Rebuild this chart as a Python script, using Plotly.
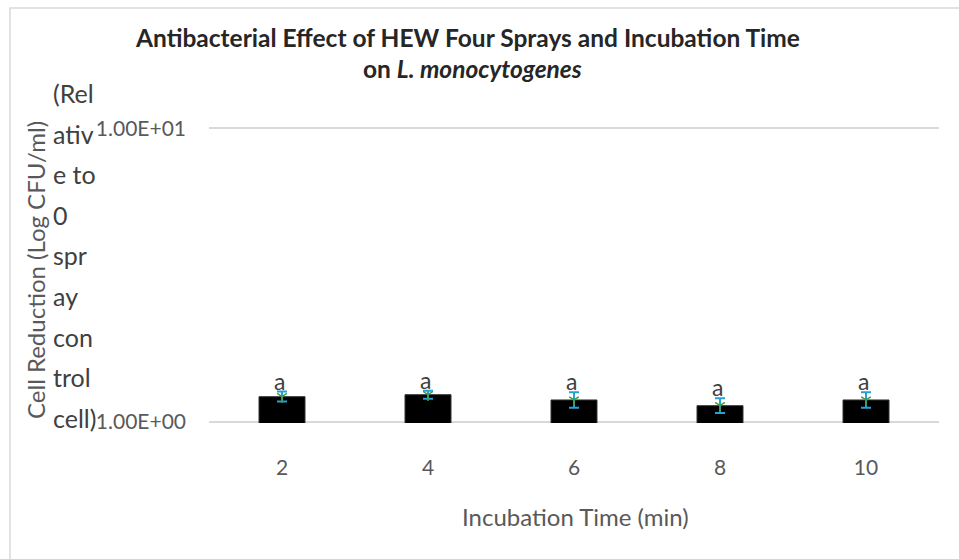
import math
import plotly.graph_objects as go

# Incubation time (min) and mean cell reduction, with error margins
incubation_min = [2, 4, 6, 8, 10]
cell_reduction = [1.218, 1.237, 1.187, 1.135, 1.187]
err_plus = [0.050, 0.038, 0.075, 0.068, 0.075]
err_minus = [0.045, 0.038, 0.070, 0.064, 0.070]
sig_letters = ["a", "a", "a", "a", "a"]

y_tickvals = [1, 10]
y_ticktext = ["1.00E+00", "1.00E+01"]

# wrapped remainder of the y-axis caption
caption_pieces = ["(Rel", "ativ", "e to", "0", "spr", "ay", "con", "trol", "cell)"]

FONT = "Lato"
L, R, T, B = 209, 20, 127, 136
W, H = 959, 559
PW, PH = W - L - R, H - T - B


def px_x(px):
    return (px - L) / PW


def px_y(py):
    return (H - B - py) / PH


fig = go.Figure()

fig.add_trace(go.Bar(
    x=incubation_min,
    y=cell_reduction,
    width=0.63,
    marker=dict(color="black", line=dict(color="#333333", width=1)),
    error_y=dict(type="data", symmetric=False, array=err_plus, arrayminus=err_minus,
                 color="#25a0d8", thickness=2, width=5),
    showlegend=False,
))

# small green markers sitting on the bar tops
fig.add_trace(go.Scatter(
    x=incubation_min,
    y=cell_reduction,
    mode="markers",
    marker=dict(symbol="y-down-open", size=8, color="#3f9d3f",
                line=dict(color="#3f9d3f", width=1.5)),
    showlegend=False,
    hoverinfo="skip",
))

annotations = []
for xv, yv, ep, lab in zip(incubation_min, cell_reduction, err_plus, sig_letters):
    annotations.append(dict(
        x=xv, y=math.log10(yv + ep), xref="x", yref="y",
        text=lab, showarrow=False, yanchor="bottom", yshift=-5, xshift=-3,
        font=dict(family=FONT, size=23, color="#404040"),
    ))

# chart title (two lines)
annotations.append(dict(
    x=px_x(467), y=px_y(37), xref="paper", yref="paper",
    text="<b>Antibacterial Effect of HEW Four Sprays and Incubation Time</b>",
    showarrow=False, xanchor="center", yanchor="middle",
    font=dict(family=FONT, size=24.5, color="#262626"),
))
annotations.append(dict(
    x=px_x(472), y=px_y(68), xref="paper", yref="paper",
    text="<b>on <i>L. monocytogenes</i></b>",
    showarrow=False, xanchor="center", yanchor="middle",
    font=dict(family=FONT, size=24.5, color="#262626"),
))

# rotated y-axis title
annotations.append(dict(
    x=px_x(35), y=px_y(270), xref="paper", yref="paper",
    text="Cell Reduction (Log CFU/ml)", textangle=-90,
    showarrow=False, xanchor="center", yanchor="middle",
    font=dict(family=FONT, size=24, color="#595959"),
))

for i, piece in enumerate(caption_pieces):
    annotations.append(dict(
        x=px_x(51), y=px_y(93 + 40.6 * i), xref="paper", yref="paper",
        text=piece, showarrow=False, xanchor="left", yanchor="middle",
        font=dict(family=FONT, size=25, color="#404040"),
    ))

# x-axis title
annotations.append(dict(
    x=px_x(575), y=px_y(516), xref="paper", yref="paper",
    text="Incubation Time (min)", showarrow=False,
    xanchor="center", yanchor="middle",
    font=dict(family=FONT, size=24, color="#595959"),
))

fig.update_layout(
    width=W, height=H,
    margin=dict(l=L, r=R, t=T, b=B),
    paper_bgcolor="white", plot_bgcolor="white",
    annotations=annotations,
    shapes=[dict(type="rect", xref="paper", yref="paper",
                 x0=px_x(10), x1=px_x(1000), y0=px_y(600), y1=px_y(8),
                 line=dict(color="#d9d9d9", width=1.5), fillcolor="rgba(0,0,0,0)",
                 layer="below")],
)

fig.update_xaxes(
    range=[1, 11], tickvals=incubation_min, ticktext=[str(v) for v in incubation_min],
    showgrid=False, zeroline=False, showline=False,
    ticks="", ticklabelstandoff=30,
    tickfont=dict(family=FONT, size=21, color="#595959"),
)

fig.update_yaxes(
    type="log", range=[-0.004, 1.004],
    tickvals=y_tickvals, ticktext=y_ticktext,
    showgrid=True, gridcolor="#d9d9d9", gridwidth=1.5,
    zeroline=False, showline=False, ticks="", ticklabelstandoff=22,
    tickfont=dict(family=FONT, size=21, color="#595959"),
)

fig.write_html("out.html")
